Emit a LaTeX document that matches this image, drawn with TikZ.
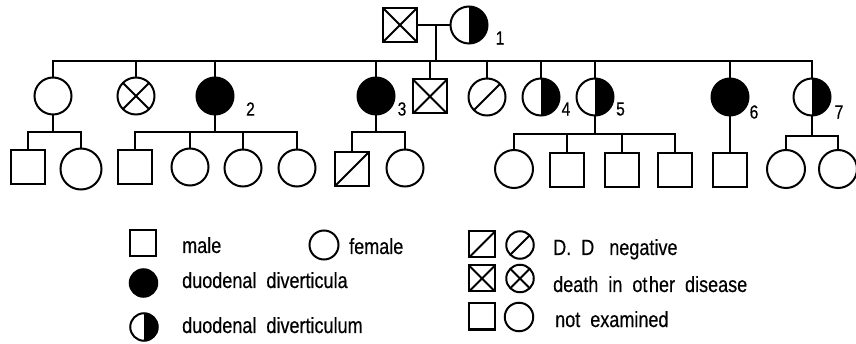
\documentclass[tikz,border=0pt]{standalone}
\usepackage{fontspec}
\setmainfont{Liberation Sans}
\newfontfamily\legfont[FakeStretch=0.82,FakeBold=0.4]{Liberation Sans}
\begin{document}
\begin{tikzpicture}[x=1pt,y=-1pt,
  ind/.style={draw, inner sep=0pt, line width=2pt},
  male/.style={ind, rectangle, minimum size=34pt},
  fem/.style={ind, circle, minimum size=37pt},
  aff/.style={fill=black},
  half/.style={path picture={\fill[black] (path picture bounding box.north) rectangle (path picture bounding box.south east);}},
  dead/.style={path picture={\draw[line width=2pt] (path picture bounding box.north west) -- (path picture bounding box.south east) (path picture bounding box.north east) -- (path picture bounding box.south west);}},
  neg/.style={path picture={\draw[line width=2pt] (path picture bounding box.south west) -- (path picture bounding box.north east);}},
  conn/.style={line width=2pt, line cap=rect},
  lbl/.style={font=\legfont\fontsize{22}{22}\selectfont, anchor=base west, inner sep=0pt},
  num/.style={font=\legfont\fontsize{19}{19}\selectfont, inner sep=0pt},
  small/.style={minimum size=26pt},
  smallc/.style={minimum size=27.5pt}
]
\useasboundingbox (0,0) rectangle (856,344);

% Generation I
\node[male, dead] (I1) at (400,25) {};
\node[fem, half] (I2) at (469,25) {};
\node[num] (n1) at (500,38) {1};

% Generation II
\node[fem] (II1) at (53,96) {};
\node[fem, dead] (II2) at (136,96) {};
\node[fem, aff] (II3) at (215,96) {};
\node[fem, aff] (II4) at (376,96) {};
\node[male, dead] (II5) at (430,96.5) {};
\node[fem, neg] (II6) at (487,97) {};
\node[fem, half] (II7) at (541,97) {};
\node[fem, half] (II8) at (595,97) {};
\node[fem, aff] (II9) at (730,97) {};
\node[fem, half] (II10) at (812,97) {};
\node[num] (n2) at (250.5,109) {2};
\node[num] (n3) at (402,109) {3};
\node[num] (n4) at (566,109) {4};
\node[num] (n5) at (620.5,109) {5};
\node[num] (n6) at (754,112) {6};
\node[num] (n7) at (839,112) {7};

% Generation III
\node[male] (III1) at (27.5,167) {};
\node[fem, minimum size=41pt] (III2) at (81,169) {};
\node[male] (III3) at (135,167) {};
\node[fem] (III4) at (190,167) {};
\node[fem] (III5) at (243,168) {};
\node[fem] (III6) at (297,168) {};
\node[male, neg] (III7) at (352,169) {};
\node[fem] (III8) at (405,168) {};
\node[fem, minimum size=38pt] (III9) at (514,169) {};
\node[male] (III10) at (567,170) {};
\node[male] (III11) at (622,170) {};
\node[male] (III12) at (675,170) {};
\node[male] (III13) at (730,170) {};
\node[fem, minimum size=38pt] (III14) at (786,169) {};
\node[fem, minimum size=38pt] (III15) at (838,169) {};

% connectors generation I -> II
\coordinate (m1) at (436,25);
\coordinate (s1) at (436,61);
\draw[conn] (I1) -- (I2);
\draw[conn] (m1) -- (s1);
\draw[conn] (II1.north |- s1) -- (II10.north |- s1);
\foreach \n in {II1,II2,II3,II4,II5,II6,II7,II8,II9,II10}
  \draw[conn] (\n.north) -- (\n.north |- s1);

% connectors generation II -> III
\coordinate (sA) at (II1.south |- 0,132);
\draw[conn] (II1.south) -- (sA);
\draw[conn] (III1.north |- sA) -- (III2.north |- sA);
\foreach \n in {III1,III2} \draw[conn] (\n.north) -- (\n.north |- sA);

\coordinate (sB) at (II3.south |- 0,132);
\draw[conn] (II3.south) -- (sB);
\draw[conn] (III3.north |- sB) -- (III6.north |- sB);
\foreach \n in {III3,III4,III5,III6} \draw[conn] (\n.north) -- (\n.north |- sB);

\coordinate (sC) at (II4.south |- 0,132);
\draw[conn] (II4.south) -- (sC);
\draw[conn] (III7.north |- sC) -- (III8.north |- sC);
\foreach \n in {III7,III8} \draw[conn] (\n.north) -- (\n.north |- sC);

\coordinate (sD) at (II8.south |- 0,134);
\draw[conn] (II8.south) -- (sD);
\draw[conn] (III9.north |- sD) -- (III12.north |- sD);
\foreach \n in {III9,III10,III11,III12} \draw[conn] (\n.north) -- (\n.north |- sD);

\draw[conn] (II9.south) -- (III13.north);

\coordinate (sF) at (II10.south |- 0,136);
\draw[conn] (II10.south) -- (sF);
\draw[conn] (III14.north |- sF) -- (III15.north |- sF);
\foreach \n in {III14,III15} \draw[conn] (\n.north) -- (\n.north |- sF);

% Legend
\node[male, small] (Lm) at (142.5,243.5) {};
\node[lbl] (Tm) at (182,253) {male};
\node[fem, minimum size=29pt] (Lf) at (324,245) {};
\node[lbl] (Tf) at (349,254) {female};
\node[fem, aff, smallc] (La) at (143.5,283) {};
\node[lbl] (Ta) at (182,288) {duodenal\ \ diverticula};
\node[fem, half, smallc] (Lh) at (144,327) {};
\node[lbl] (Th) at (182,333) {duodenal\ \ diverticulum};

\node[male, neg, small] (Ln1) at (482,244.5) {};
\node[fem, neg, smallc] (Ln2) at (520,245) {};
\node[lbl] (Tn) at (553,255) {D.\ \ D\ \ \ negative};
\node[male, dead, small] (Ld1) at (482,278.5) {};
\node[fem, dead, smallc] (Ld2) at (520,278.5) {};
\node[lbl] (Td) at (553,292) {death\ \ in\ \ ot\kern1.5pt her\ \ disease};
\node[male, small] (Le1) at (482,316.5) {};
\node[fem, minimum size=28.5pt] (Le2) at (519,317) {};
\node[lbl] (Te) at (555,327) {not\ \ examined};
\end{tikzpicture}
\end{document}
